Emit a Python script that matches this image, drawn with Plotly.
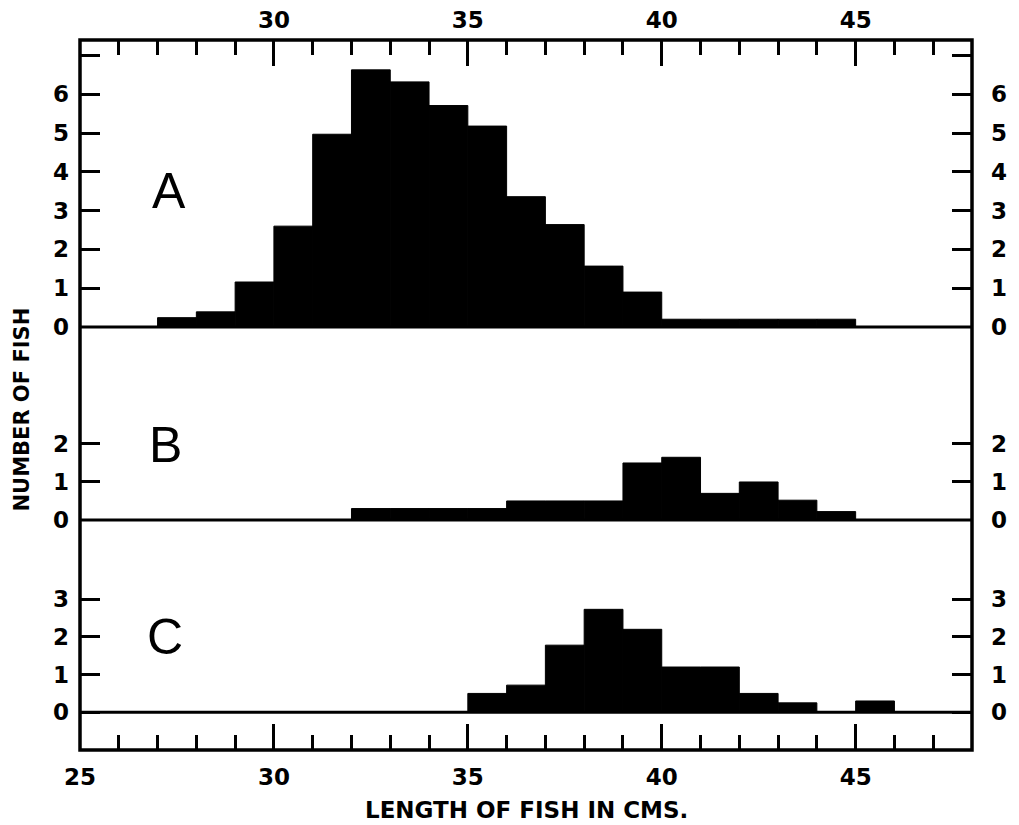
import plotly.graph_objects as go

# ---------------- data ----------------
# bin start (cm) -> number of fish, bins are 1 cm wide
length_A = [27, 28, 29, 30, 31, 32, 33, 34, 35, 36, 37, 38, 39, 40, 41, 42, 43, 44]
count_A = [0.24, 0.39, 1.16, 2.6, 4.97, 6.63, 6.32, 5.71, 5.18, 3.36, 2.64, 1.57, 0.9,
           0.2, 0.2, 0.2, 0.2, 0.2]

length_B = [32, 33, 34, 35, 36, 37, 38, 39, 40, 41, 42, 43, 44]
count_B = [0.3, 0.3, 0.3, 0.3, 0.5, 0.5, 0.5, 1.5, 1.65, 0.7, 1.0, 0.52, 0.22]

length_C = [35, 36, 37, 38, 39, 40, 41, 42, 43, 44, 45]
count_C = [0.5, 0.72, 1.78, 2.73, 2.2, 1.2, 1.2, 0.5, 0.25, 0.0, 0.3]

x_range = [25, 48]
x_ticks_bottom = [25, 30, 35, 40, 45]
x_ticks_top = [30, 35, 40, 45]
y_ticks_A = [0, 1, 2, 3, 4, 5, 6, 7]
y_text_A = ["0", "1", "2", "3", "4", "5", "6", ""]
y_ticks_B = [0, 1, 2]
y_ticks_C = [0, 1, 2, 3]
panel_names = ["A", "B", "C"]

x_title = "LENGTH OF FISH IN CMS."
y_title = "NUMBER OF FISH"

# ---------------- figure ----------------
fig = go.Figure()
for xs, ys, ya in [(length_A, count_A, "y"), (length_B, count_B, "y2"), (length_C, count_C, "y3")]:
    fig.add_trace(go.Bar(x=xs, y=ys, width=1, offset=0, xaxis="x", yaxis=ya,
                         marker=dict(color="black", line=dict(width=1, color="black")),
                         showlegend=False, hoverinfo="skip"))

# invisible anchors for the mirrored (top / right) label axes
for xa, ya in [("x2", "y"), ("x", "y4"), ("x", "y5"), ("x", "y6")]:
    fig.add_trace(go.Scatter(x=[x_range[0]], y=[0], mode="markers", xaxis=xa, yaxis=ya,
                             marker=dict(opacity=0), showlegend=False, hoverinfo="skip"))

tick_font = dict(family="DejaVu Sans", size=23, color="black", weight="bold")
common_x = dict(range=x_range, showgrid=False, zeroline=False, showline=False,
                ticks="inside", ticklen=26, tickwidth=2.5, tickcolor="black",
                tickfont=tick_font, tickmode="array", automargin=False,
                minor=dict(tickmode="linear", tick0=25, dtick=1, ticks="inside",
                           ticklen=15, tickwidth=2.5, tickcolor="black"))
common_y = dict(showgrid=False, zeroline=False, showline=False, ticks="inside",
                ticklen=20, tickwidth=2.5, tickcolor="black", tickfont=tick_font,
                tickmode="array", automargin=False)

dom_A = [0.5958, 1.0]
dom_B = [0.324, 0.5958]
dom_C = [0.0, 0.324]
rng_A = [0, 7.4]
rng_B = [0, 5.08]
rng_C = [-1.0, 5.1]

fig.update_layout(
    width=1011, height=817,
    margin=dict(l=72, r=47, t=32, b=75, autoexpand=False),
    paper_bgcolor="white", plot_bgcolor="white",
    barmode="overlay", showlegend=False,
    xaxis=dict(**common_x, domain=[0, 1], anchor="y3", side="bottom",
               tickvals=x_ticks_bottom, ticklabelstandoff=11),
    xaxis2=dict(**common_x, overlaying="x", anchor="y", side="top",
                tickvals=x_ticks_top, ticklabelstandoff=6),
    yaxis=dict(**common_y, domain=dom_A, range=rng_A, anchor="x",
               tickvals=y_ticks_A, ticktext=y_text_A, ticklabelstandoff=10),
    yaxis2=dict(**common_y, domain=dom_B, range=rng_B, anchor="x",
                tickvals=y_ticks_B, ticklabelstandoff=10),
    yaxis3=dict(**common_y, domain=dom_C, range=rng_C, anchor="x",
                tickvals=y_ticks_C, ticklabelstandoff=10),
    yaxis4=dict(**common_y, overlaying="y", side="right", range=rng_A, anchor="x",
                tickvals=y_ticks_A, ticktext=y_text_A, ticklabelstandoff=18),
    yaxis5=dict(**common_y, overlaying="y2", side="right", range=rng_B, anchor="x",
                tickvals=y_ticks_B, ticklabelstandoff=18),
    yaxis6=dict(**common_y, overlaying="y3", side="right", range=rng_C, anchor="x",
                tickvals=y_ticks_C, ticklabelstandoff=18),
)

# frame and zero baselines (A and B baselines sit on the panel boundaries)
shapes = [dict(type="rect", xref="paper", yref="paper", x0=0, x1=1, y0=0, y1=1,
               line=dict(color="black", width=3.5), layer="above")]
for yb in [dom_A[0], dom_B[0]]:
    shapes.append(dict(type="line", xref="paper", yref="paper", x0=0, x1=1, y0=yb, y1=yb,
                       line=dict(color="black", width=3), layer="above"))
shapes.append(dict(type="line", xref="paper", yref="y3", x0=0, x1=1, y0=0, y1=0,
                   line=dict(color="black", width=3), layer="above"))
fig.update_layout(shapes=shapes)

letter_font = dict(family="Liberation Sans", size=50, color="black")
annotations = [
    dict(text=panel_names[0], xref="x", yref="y", x=27.3, y=3.5, showarrow=False, font=letter_font),
    dict(text=panel_names[1], xref="x", yref="y2", x=27.2, y=1.97, showarrow=False, font=letter_font),
    dict(text=panel_names[2], xref="x", yref="y3", x=27.2, y=2.0, showarrow=False, font=letter_font),
    dict(text=x_title, xref="paper", yref="paper", x=0.5, y=-0.084, xanchor="center",
         yanchor="middle", showarrow=False,
         font=dict(family="DejaVu Sans", size=23, color="black", weight="bold")),
    dict(text=y_title, xref="paper", yref="paper", x=-0.0655, y=0.479, xanchor="center",
         yanchor="middle", textangle=-90, showarrow=False,
         font=dict(family="DejaVu Sans", size=21, color="black", weight="bold")),
]
fig.update_layout(annotations=annotations)

fig.write_html("out.html")
